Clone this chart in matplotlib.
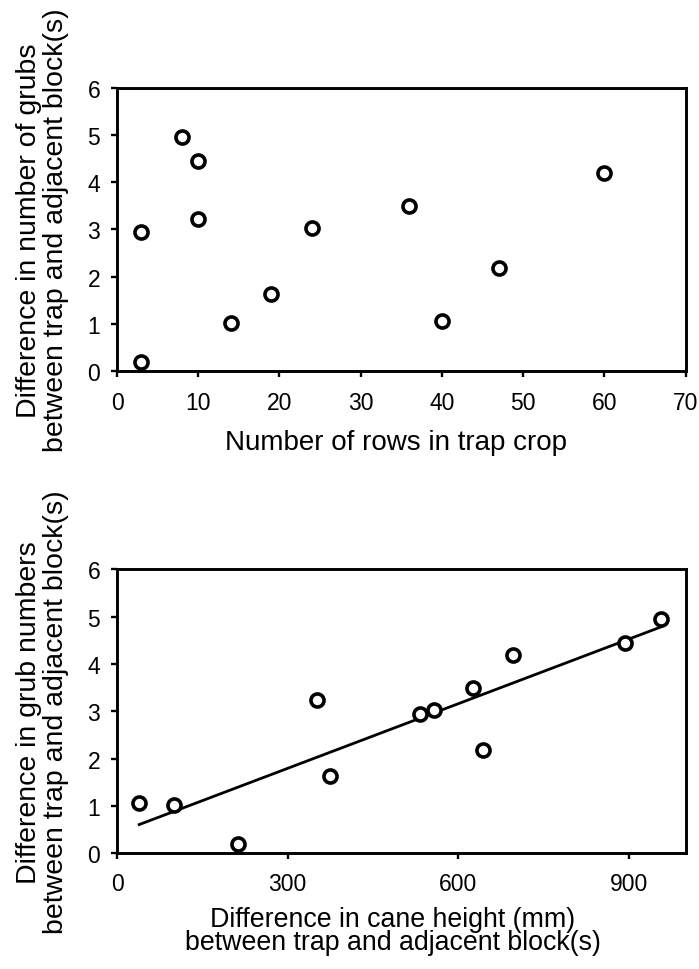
import numpy as np
import matplotlib
matplotlib.use("Agg")
import matplotlib.pyplot as plt

plt.rcParams["font.family"] = ["Liberation Sans", "DejaVu Sans"]

# Grub difference between trap crop and adjacent block(s), one value per site
grub_diff = [2.95, 0.20, 4.95, 4.44, 3.23, 1.02, 1.64, 3.02, 3.49, 1.06, 2.18, 4.20]
# Number of rows in the trap crop at each site
rows = [3, 3, 8, 10, 10, 14, 19, 24, 36, 40, 47, 60]
# Cane height difference (mm) at each site
height_diff = [533, 213, 957, 893, 351, 100, 374, 558, 627, 39, 644, 696]

x1_ticks = [0, 10, 20, 30, 40, 50, 60, 70]
x2_ticks = [0, 300, 600, 900]
y_ticks = [0, 1, 2, 3, 4, 5, 6]

W, H = 699, 970
fig = plt.figure(figsize=(W / 100, H / 100), dpi=100)

LABEL_SIZE = 20.5
TICK_SIZE = 16.5


def frame(ax, xpad):
    for s in ax.spines.values():
        s.set_linewidth(2.1)
    ax.tick_params(direction="out", length=4.5, width=1.7, labelsize=TICK_SIZE,
                   top=False, right=False)
    ax.tick_params(axis="x", pad=xpad)
    ax.tick_params(axis="y", pad=7.5)


marker_kw = dict(marker="o", linestyle="none", markersize=9.4,
                 markerfacecolor="white", markeredgecolor="black",
                 markeredgewidth=2.6, zorder=3, clip_on=False)

# Top panel: rows in trap crop
ax1 = fig.add_axes([117 / W, 1 - 372.3 / H, (685.5 - 117) / W, (372.3 - 88.5) / H])
ax1.plot(rows, grub_diff, **marker_kw)
ax1.set_xlim(0, 70)
ax1.set_ylim(0, 6)
ax1.set_xticks(x1_ticks)
ax1.set_yticks(y_ticks)
frame(ax1, 10)
ax1.set_xlabel("Number of rows in trap crop", fontsize=20)
ax1.xaxis.set_label_coords(0.49, -0.205)
ax1.set_ylabel("Difference in number of grubs\nbetween trap and adjacent block(s)",
               fontsize=LABEL_SIZE, linespacing=1.05)
ax1.yaxis.set_label_coords(-0.085, 0.5)

# Bottom panel: cane height difference with fitted line
ax2 = fig.add_axes([117 / W, 1 - 854.3 / H, (685.5 - 117) / W, (854.3 - 570.3) / H])
ax2.plot(height_diff, grub_diff, **marker_kw)
slope, intercept = np.polyfit(height_diff, grub_diff, 1)
xf = np.array([min(height_diff), max(height_diff)])
ax2.plot(xf, slope * xf + intercept, color="black", linewidth=2.0, zorder=2)
ax2.set_xlim(0, 1000)
ax2.set_ylim(0, 6)
ax2.set_xticks(x2_ticks)
ax2.set_yticks(y_ticks)
frame(ax2, 9)
ax2.set_xlabel("Difference in cane height (mm)\nbetween trap and adjacent block(s)",
               fontsize=19.3, linespacing=0.84)
ax2.xaxis.set_label_coords(0.485, -0.185)
ax2.set_ylabel("Difference in grub numbers\nbetween trap and adjacent block(s)",
               fontsize=LABEL_SIZE, linespacing=1.05)
ax2.yaxis.set_label_coords(-0.085, 0.5)

fig.savefig("out.png", dpi=100, facecolor="white")
